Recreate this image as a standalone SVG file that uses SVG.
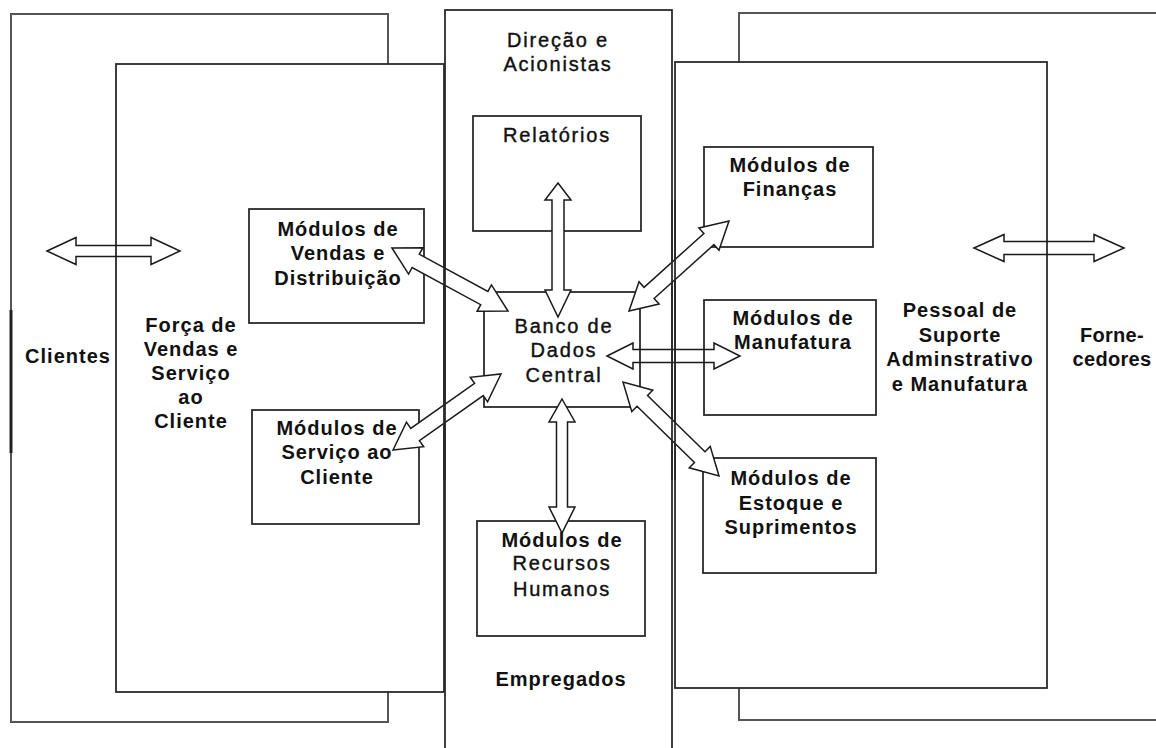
<svg xmlns="http://www.w3.org/2000/svg" width="1156" height="748" viewBox="0 0 1156 748">
<style>
.frame{fill:#fff;stroke:#555;stroke-width:2}
.box{fill:#fff;stroke:#2a2a2a;stroke-width:1.8}
.open{fill:none;stroke:#2a2a2a;stroke-width:1.8}
.arr{fill:#fff;stroke:#1a1a1a;stroke-width:1.5;stroke-linejoin:miter}
.arrh{fill:none;stroke:#1a1a1a;stroke-width:1.5}
.ln{stroke:#2a2a2a;stroke-width:1.8;fill:none}
text{font-family:"Liberation Sans",Arial,sans-serif;font-size:20px;fill:#111;text-anchor:middle}
.b{font-weight:bold;letter-spacing:1px}
.r{font-weight:normal;letter-spacing:1.8px;stroke:#111;stroke-width:0.4px}
</style>
<rect width="1156" height="748" fill="#fff"/>

<g id="clientes">
<rect class="frame" x="11" y="14" width="377" height="708"/>
<line x1="11" y1="310" x2="11" y2="453" stroke="#222" stroke-width="3"/>
<text class="b" x="68" y="363">Clientes</text>
</g>

<g id="fornecedores">
<rect class="frame" x="739" y="13" width="430" height="707"/>
<text class="b" x="1112" y="342" style="letter-spacing:0.3px">Forne-</text>
<text class="b" x="1112" y="366" style="letter-spacing:0.3px">cedores</text>
</g>

<g id="forca-vendas">
<rect class="box" x="116" y="64" width="328" height="628"/>
<text class="b" x="191" y="332">Força de<tspan x="191" dy="23.5">Vendas e</tspan><tspan x="191" dy="24.5">Serviço</tspan><tspan x="191" dy="23.5">ao</tspan><tspan x="191" dy="24.5">Cliente</tspan></text>
</g>

<g id="pessoal">
<rect class="box" x="675" y="62" width="372" height="626"/>
<text class="b" x="960" y="317">Pessoal de<tspan x="960" dy="24.5">Suporte</tspan><tspan x="960" dy="24.5">Adminstrativo</tspan><tspan x="960" dy="24.5">e Manufatura</tspan></text>
</g>

<g id="direcao">
<rect class="open" x="445" y="10" width="227" height="760"/>
<text class="r" x="558" y="47">Direção e<tspan x="558" dy="24">Acionistas</tspan></text>
</g>

<g id="empregados">
<text class="b" x="561" y="686">Empregados</text>
</g>

<g id="relatorios">
<rect class="box" x="473" y="116" width="168" height="115"/>
<text class="r" x="557" y="142">Relatórios</text>
</g>

<g id="vendas">
<rect class="box" x="249" y="209" width="175" height="114"/>
<text class="b" x="338" y="236">Módulos de<tspan x="338" dy="23.5">Vendas e</tspan><tspan x="338" dy="25">Distribuição</tspan></text>
</g>

<g id="servico">
<rect class="box" x="252" y="410" width="167" height="114"/>
<text class="b" x="337" y="435">Módulos de<tspan x="337" dy="23.5">Serviço ao</tspan><tspan x="337" dy="25">Cliente</tspan></text>
</g>

<g id="banco">
<rect class="box" x="484" y="292" width="156" height="115"/>
<text class="r" x="564" y="333">Banco de<tspan x="564" dy="24">Dados</tspan><tspan x="564" dy="25">Central</tspan></text>
</g>

<g id="financas">
<rect class="box" x="704" y="147" width="169" height="100"/>
<text class="b" x="790" y="172">Módulos de<tspan x="790" dy="24">Finanças</tspan></text>
</g>

<g id="manufatura">
<rect class="box" x="704" y="300" width="172" height="115"/>
<text class="b" x="793" y="325">Módulos de<tspan x="793" dy="23.5">Manufatura</tspan></text>
</g>

<g id="estoque">
<rect class="box" x="703" y="458" width="173" height="115"/>
<text class="b" x="791" y="485">Módulos de<tspan x="791" dy="25">Estoque e</tspan><tspan x="791" dy="24">Suprimentos</tspan></text>
</g>

<g id="rh">
<rect class="box" x="477" y="521" width="168" height="115"/>
<text class="b" x="562" y="547">Módulos de</text>
<text class="r" x="562" y="570">Recursos<tspan x="562" dy="26">Humanos</tspan></text>
</g>

<g id="connectors">
<polygon class="arrh" points="47,251 76,237.5 76,245.5 151,245.5 151,237.5 180,251 151,264.5 151,256.5 76,256.5 76,264.5"/>
<polygon class="arrh" points="974,248 1004,234.5 1004,241.5 1094,241.5 1094,234.5 1124,248 1094,261.5 1094,254.5 1004,254.5 1004,261.5"/>
<polygon class="arr" points="558,183 571,200 564,200 564,290 571,290 558,317 545,290 552,290 552,200 545,200"/>
<polygon class="arr" points="562,399 575,422 567.5,422 567.5,507 575,507 562,533 549,507 556.5,507 556.5,422 549,422"/>
<polygon class="arr" points="392,248 408.57,274.07 412.15,267.48 480.69,304.7 477.11,311.29 508,311 491.43,284.93 487.85,291.52 419.31,254.3 422.89,247.71"/>
<polygon class="arr" points="393,450 423.71,446.73 419.4,440.59 483.24,395.67 487.55,401.81 501,374 470.29,377.27 474.6,383.41 410.76,428.33 406.45,422.19"/>
<polygon class="arr" points="629,311 659.1,304.09 654.09,298.51 713.95,244.63 718.96,250.21 729,221 698.9,227.91 703.91,233.49 644.05,287.37 639.04,281.79"/>
<polygon class="arr" points="623,382 631.8,411.61 637.04,406.25 694.46,462.47 689.22,467.83 719,476 710.2,446.39 704.96,451.75 647.54,395.53 652.78,390.17"/>
<polygon class="arrh" points="607,356 633,343 633,349.5 714,349.5 714,343 740,356 714,369 714,362.5 633,362.5 633,369"/>
<line class="ln" x1="445" y1="200" x2="445" y2="480"/>
<line class="ln" x1="444" y1="200" x2="444" y2="480"/>
<line class="ln" x1="672" y1="200" x2="672" y2="480"/>
<line class="ln" x1="675" y1="200" x2="675" y2="480"/>
</g>
</svg>
